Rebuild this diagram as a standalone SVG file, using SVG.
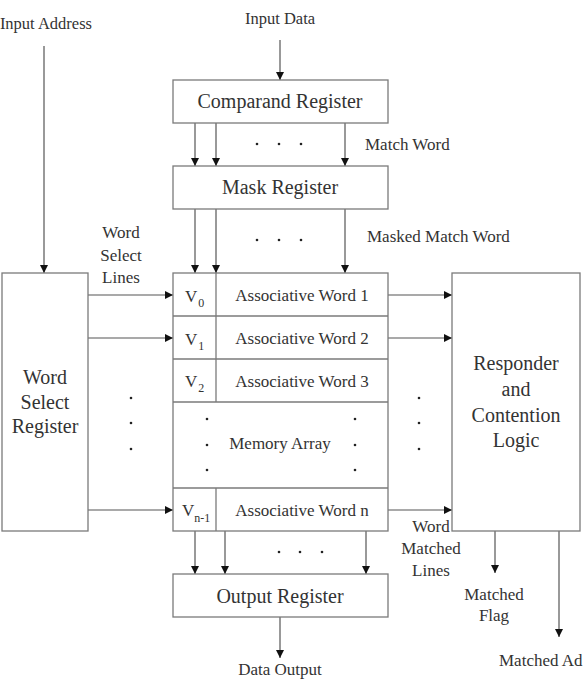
<svg xmlns="http://www.w3.org/2000/svg" width="583" height="679" viewBox="0 0 583 679">
<defs>
<marker id="ah" markerUnits="userSpaceOnUse" markerWidth="9" markerHeight="8" refX="8" refY="4" orient="auto">
<path d="M0,0 L8,4 L0,8 z" fill="#111"/>
</marker>
<style>
.box{fill:#fff;stroke:#7a7a7a;stroke-width:1.3}
.ln{fill:none;stroke:#555;stroke-width:1.2}
.ar{fill:none;stroke:#555;stroke-width:1.2;marker-end:url(#ah)}
text{font-family:"Liberation Serif","Times New Roman",serif;fill:#333}
.big{font-size:20px;text-anchor:middle}
.mid{font-size:17px;text-anchor:middle}
.lab{font-size:17px}
.sub{font-size:12px}
.dot{fill:#222}
</style>
</defs>
<rect width="583" height="679" fill="#fff"/>
<g id="connectors">
<line class="ar" x1="280" y1="40" x2="280" y2="80"/>
<line class="ar" x1="44" y1="46" x2="44" y2="273"/>
<line class="ar" x1="195" y1="123" x2="195" y2="166"/>
<line class="ar" x1="216" y1="123" x2="216" y2="166"/>
<line class="ar" x1="345" y1="123" x2="345" y2="166"/>
<line class="ar" x1="195" y1="209" x2="195" y2="273"/>
<line class="ar" x1="216" y1="209" x2="216" y2="273"/>
<line class="ar" x1="345" y1="209" x2="345" y2="273"/>
<line class="ar" x1="88" y1="295" x2="173" y2="295"/>
<line class="ar" x1="88" y1="338" x2="173" y2="338"/>
<line class="ar" x1="88" y1="510" x2="173" y2="510"/>
<line class="ar" x1="388" y1="295" x2="452" y2="295"/>
<line class="ar" x1="388" y1="338" x2="452" y2="338"/>
<line class="ar" x1="388" y1="510" x2="452" y2="510"/>
<line class="ar" x1="195" y1="531" x2="195" y2="574"/>
<line class="ar" x1="225" y1="531" x2="225" y2="574"/>
<line class="ar" x1="366" y1="531" x2="366" y2="574"/>
<line class="ar" x1="280" y1="617" x2="280" y2="658"/>
<line class="ar" x1="495" y1="531" x2="495" y2="573"/>
<line class="ar" x1="559" y1="531" x2="559" y2="637"/>
</g>
<g id="comparand-register">
<rect class="box" x="173" y="80" width="215" height="43"/>
<text class="big" x="280" y="108">Comparand Register</text>
</g>
<g id="mask-register">
<rect class="box" x="173" y="166" width="215" height="43"/>
<text class="big" x="280" y="194">Mask Register</text>
</g>
<g id="memory-array">
<rect class="box" x="173" y="273" width="215" height="258"/>
<line class="box" x1="173" y1="316" x2="388" y2="316"/>
<line class="box" x1="173" y1="359" x2="388" y2="359"/>
<line class="box" x1="173" y1="402" x2="388" y2="402"/>
<line class="box" x1="173" y1="488" x2="388" y2="488"/>
<line class="box" x1="216" y1="273" x2="216" y2="402"/>
<line class="box" x1="216" y1="488" x2="216" y2="531"/>
<text class="lab" x="185" y="302">V<tspan class="sub" dx="1" dy="5">0</tspan></text>
<text class="lab" x="185" y="345">V<tspan class="sub" dx="1" dy="5">1</tspan></text>
<text class="lab" x="185" y="387">V<tspan class="sub" dx="1" dy="5">2</tspan></text>
<text class="lab" x="182" y="516">V<tspan class="sub" dx="0" dy="6">n-1</tspan></text>
<text class="mid" x="302" y="301">Associative Word 1</text>
<text class="mid" x="302" y="344">Associative Word 2</text>
<text class="mid" x="302" y="387">Associative Word 3</text>
<text class="mid" x="302" y="516">Associative Word n</text>
<text class="mid" x="280" y="449">Memory Array</text>
<circle class="dot" cx="207" cy="419" r="1.3"/>
<circle class="dot" cx="207" cy="445" r="1.3"/>
<circle class="dot" cx="207" cy="470" r="1.3"/>
<circle class="dot" cx="355" cy="419" r="1.3"/>
<circle class="dot" cx="355" cy="445" r="1.3"/>
<circle class="dot" cx="355" cy="470" r="1.3"/>
</g>
<g id="word-select-register">
<rect class="box" x="2" y="273" width="86" height="258"/>
<text class="big" x="45" y="384">Word</text>
<text class="big" x="45" y="409">Select</text>
<text class="big" x="45" y="433">Register</text>
</g>
<g id="responder">
<rect class="box" x="452" y="273" width="128" height="258"/>
<text class="big" x="516" y="370">Responder</text>
<text class="big" x="516" y="396">and</text>
<text class="big" x="516" y="422">Contention</text>
<text class="big" x="516" y="447">Logic</text>
</g>
<g id="output-register">
<rect class="box" x="173" y="574" width="215" height="43"/>
<text class="big" x="280" y="603">Output Register</text>
</g>
<g id="labels">
<text class="lab" x="92" y="29" text-anchor="end" style="font-size:16.5px">Input Address</text>
<text class="mid" x="280" y="24" style="font-size:16.5px">Input Data</text>
<text class="lab" x="365" y="150">Match Word</text>
<text class="lab" x="367" y="242">Masked Match Word</text>
<text class="mid" x="121" y="238">Word</text>
<text class="mid" x="121" y="261">Select</text>
<text class="mid" x="121" y="283">Lines</text>
<text class="mid" x="431" y="532">Word</text>
<text class="mid" x="431" y="554">Matched</text>
<text class="mid" x="431" y="576">Lines</text>
<text class="mid" x="494" y="600">Matched</text>
<text class="mid" x="494" y="621">Flag</text>
<text class="lab" x="499" y="666">Matched Ad</text>
<text class="mid" x="280" y="675">Data Output</text>
</g>
<g id="dots">
<circle class="dot" cx="257" cy="144" r="1.3"/>
<circle class="dot" cx="279" cy="144" r="1.3"/>
<circle class="dot" cx="301" cy="144" r="1.3"/>
<circle class="dot" cx="257" cy="240" r="1.3"/>
<circle class="dot" cx="279" cy="240" r="1.3"/>
<circle class="dot" cx="301" cy="240" r="1.3"/>
<circle class="dot" cx="279" cy="552" r="1.3"/>
<circle class="dot" cx="300" cy="552" r="1.3"/>
<circle class="dot" cx="322" cy="552" r="1.3"/>
<circle class="dot" cx="131" cy="398" r="1.3"/>
<circle class="dot" cx="131" cy="423" r="1.3"/>
<circle class="dot" cx="131" cy="449" r="1.3"/>
<circle class="dot" cx="419" cy="398" r="1.3"/>
<circle class="dot" cx="419" cy="423" r="1.3"/>
<circle class="dot" cx="419" cy="449" r="1.3"/>
</g>
</svg>
